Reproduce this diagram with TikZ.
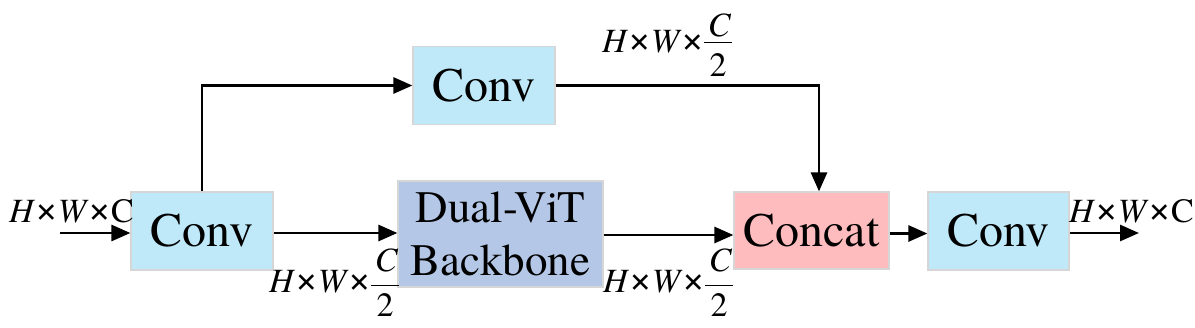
\documentclass[tikz,border=0pt]{standalone}
\usepackage{fontspec}
\setmainfont{texgyretermes}[Extension=.otf, UprightFont=*-regular, ItalicFont=*-italic, BoldFont=*-bold, BoldItalicFont=*-bolditalic]
\usetikzlibrary{arrows.meta}
\definecolor{convblue}{HTML}{BFE9F8}
\definecolor{dualblue}{HTML}{B4C7E7}
\definecolor{concatpink}{HTML}{FFBCBE}
\definecolor{edgegray}{HTML}{D6D6D6}
% fraction C/2: #1 = raise of C, #2 = raise of bar
\newcommand{\halfc}[2]{\rlap{\rule[#2]{28pt}{1.5pt}}\rlap{\makebox[28pt]{\hspace{3pt}\raisebox{#1}{\textit{C}}}}\makebox[28pt]{\raisebox{-24pt}{2}}}
\newcommand{\tms}{{\fontsize{40pt}{40pt}\selectfont ×}}
\newcommand{\hwtimes}{\textit{H}\tms\textit{W}\tms}
\tikzset{
  blk/.style={draw=edgegray, line width=1.2pt, minimum width=#1, inner sep=0pt,
    font=\fontsize{48pt}{53pt}\selectfont},
  arr/.style={line width=2.8pt, -{Triangle[length=19pt,width=16pt]}},
  lbl/.style={inner sep=0pt, anchor=base west, font=\fontsize{34pt}{40pt}\selectfont},
}
\begin{document}
\begin{tikzpicture}[x=1pt,y=-1pt]
\useasboundingbox (0,0) rectangle (1195,327);
% blocks
\node[blk=142pt, minimum height=78pt, fill=convblue] (convL) at (202,231) {Conv};
\node[blk=142pt, minimum height=78pt, fill=convblue] (convT) at (484,85.5) {Conv};
\node[blk=205pt, minimum height=106pt, fill=dualblue, align=center, font=\fontsize{45pt}{53pt}\selectfont] (dual) at (500.5,234) {Dual-ViT\\Backbone};
\node[blk=155pt, minimum height=77pt, fill=concatpink] (concat) at (811.5,230.5) {Concat};
\node[blk=141pt, minimum height=78pt, fill=convblue] (convR) at (998.5,231) {Conv};
% free ends
\coordinate (in) at (60,233);
\coordinate (out) at (1139,233);
% connectors
\draw[arr] (in) -- (in -| convL.west);
\draw[arr] ([yshift=-2pt]convL.east) -- ([yshift=-2pt]convL.east -| dual.west);
\draw[arr] ([yshift=-1pt]dual.east) -- ([yshift=-1pt]dual.east -| concat.west);
\draw[arr] ([yshift=-3pt]concat.east) -- ([yshift=-3pt]concat.east -| convR.west);
\draw[arr] (convR.east |- out) -- (out);
\draw[arr] (convL.north) |- (convT.west);
\draw[arr] (convT.east) -| ([xshift=7.5pt]concat.north);
% labels
\node[lbl] (lin) at (9,222) {\hwtimes C};
\node[lbl] (lout) at (1069,222) {\hwtimes C};
\node[lbl] (lbot1) at (269,292) {\hwtimes\halfc{21pt}{6pt}};
\node[lbl] (lbot2) at (603,292) {\hwtimes\halfc{21pt}{6pt}};
\node[lbl] (ltop) at (602,52) {\hwtimes\halfc{16pt}{9pt}};
\end{tikzpicture}
\end{document}
